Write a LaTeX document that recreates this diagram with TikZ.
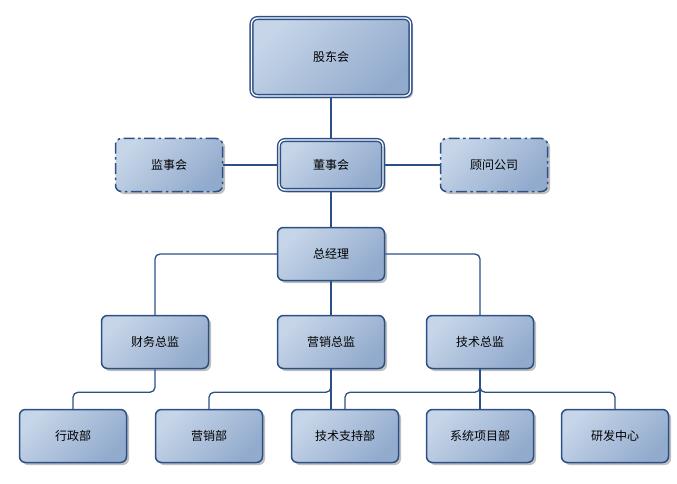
\documentclass[tikz,border=0pt]{standalone}
\usepackage{fontspec}
\newfontfamily\cjk{Noto Sans CJK SC}
\usepackage{tikz}
\usetikzlibrary{positioning,shadows}
\definecolor{boxline}{HTML}{2C4F86}
\definecolor{boxlight}{HTML}{C6D5E8}
\definecolor{boxdark}{HTML}{92ABCD}
\tikzset{
  unit/.style={rectangle, rounded corners=6pt, draw=boxline, line width=1.5pt,
               top color=boxlight, bottom color=boxdark, shading angle=45,
               minimum width=107pt, minimum height=53pt, inner sep=2pt,
               font=\cjk\fontsize{12}{14}\selectfont,
               drop shadow={shadow xshift=2.5pt, shadow yshift=-2.5pt, fill=black, opacity=0.25}},
  board/.style={unit, line width=1.4pt, double=white, double distance=1.3pt,
                minimum width=104pt, minimum height=50pt},
  advisor/.style={unit, dash pattern=on 11pt off 3.5pt on 2.5pt off 3.5pt},
  link/.style={draw=boxline, line width=1.3pt, rounded corners=5pt},
}

\begin{document}
\begin{tikzpicture}[x=1pt, y=-1pt]
\useasboundingbox (0,0) rectangle (677,484);
%Nodes
\node[board, minimum width=159pt, minimum height=78pt] (gudong) at (331,57) {股东会};
\node[board] (dongshi) at (331,165) {董事会};
\node[advisor] (jianshi) at (169,165) {监事会};
\node[advisor] (guwen) at (494,165) {顾问公司};
\node[unit] (zongjingli) at (331,254) {总经理};
\node[unit] (caiwu) at (155,342) {财务总监};
\node[unit] (yingxiao) at (331,342) {营销总监};
\node[unit] (jishu) at (480,342) {技术总监};
\node[unit] (xingzheng) at (73,436) {行政部};
\node[unit] (yingxiaobu) at (209,436) {营销部};
\node[unit] (zhichi) at (345,436) {技术支持部};
\node[unit] (xitong) at (480,436) {系统项目部};
\node[unit] (yanfa) at (615,436) {研发中心};

%Lines
\draw[link] (gudong.south) -- (dongshi.north);
\draw[link] (jianshi.east) -- (dongshi.west);
\draw[link] (dongshi.east) -- (guwen.west);
\draw[link] (dongshi.south) -- (zongjingli.north);
\draw[link] (zongjingli.west) -| (caiwu.north);
\draw[link] (zongjingli.east) -| (jishu.north);
\draw[link] (zongjingli.south) -- (yingxiao.north);
\draw[link] (caiwu.south) -- ++(0,23) -| (xingzheng.north);
\draw[link] (yingxiao.south) -- ++(0,23) -| (yingxiaobu.north);
\draw[link] (yingxiao.south) -- (yingxiao.south |- zhichi.north);
\draw[link] (jishu.south) -- ++(0,23) -| (zhichi.north);
\draw[link] (jishu.south) -- ++(0,23) -| (yanfa.north);
\draw[link] (jishu.south) -- (xitong.north);
\end{tikzpicture}
\end{document}
